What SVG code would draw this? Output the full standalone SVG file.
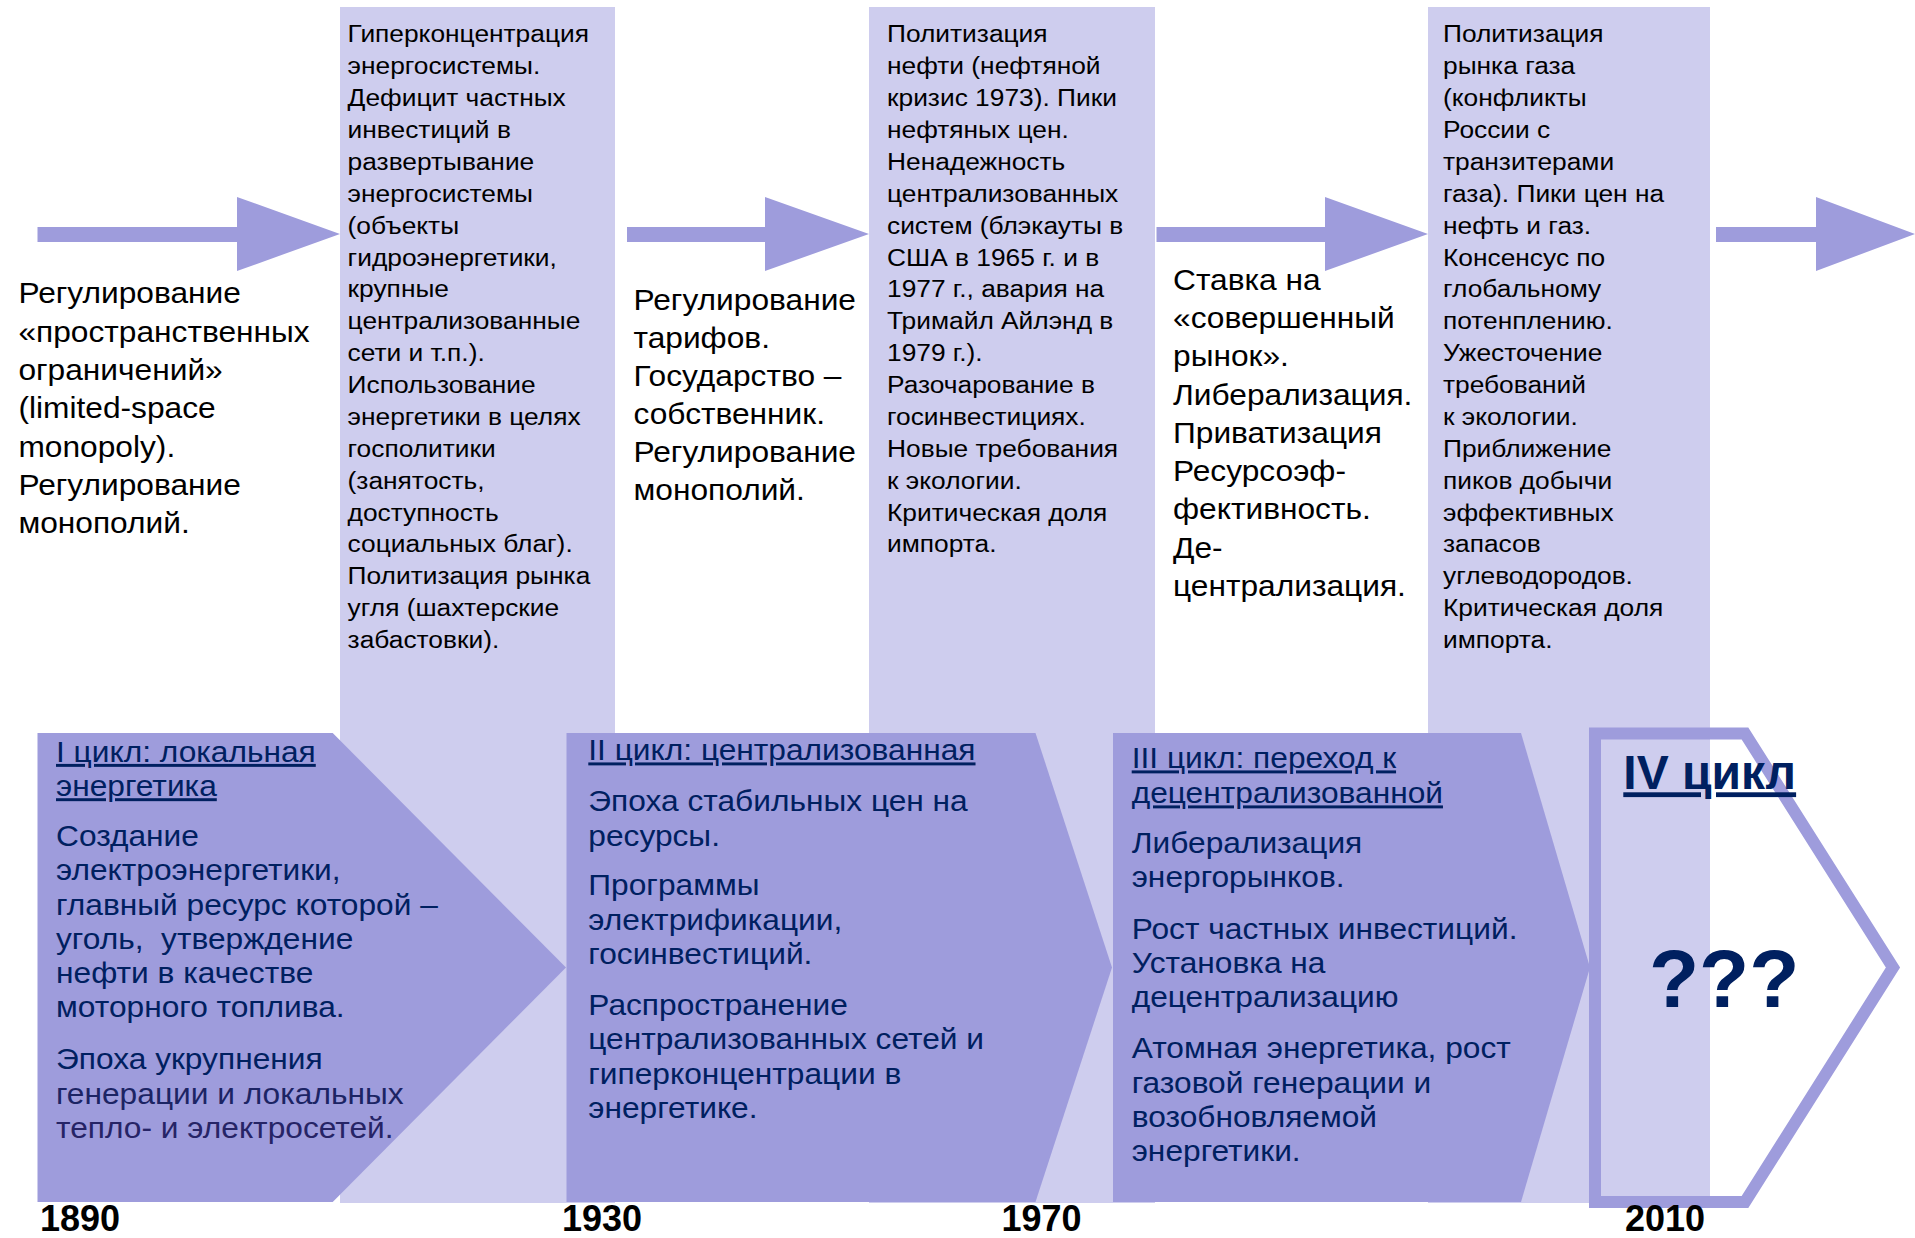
<svg xmlns="http://www.w3.org/2000/svg" width="1915" height="1238" viewBox="0 0 1915 1238">
<style>
text{font-family:"Liberation Sans",Arial,sans-serif}
.ft{font-size:29.5px;fill:#000}
.ct{font-size:24.5px;fill:#000}
.bt{font-size:29.5px;fill:#002060}
.u{text-decoration:underline}
.yr{font-size:36px;font-weight:bold;fill:#000}
.big{font-weight:bold;fill:#002060}
.light{fill:#cecdee}
.dark{fill:#9e9cdc}
.arrow{fill:#9e9cdc}
</style>
<rect width="1915" height="1238" fill="#fff"/>

<g id="column1">
<rect class="light" x="340" y="7" width="275" height="1196"/>
<g transform="translate(347.6,0) scale(1.075,1)">
<text class="ct">
<tspan x="0" y="42.4">Гиперконцентрация</tspan>
<tspan x="0" y="74.3">энергосистемы.</tspan>
<tspan x="0" y="106.2">Дефицит частных</tspan>
<tspan x="0" y="138">инвестиций в</tspan>
<tspan x="0" y="169.9">развертывание</tspan>
<tspan x="0" y="201.8">энергосистемы</tspan>
<tspan x="0" y="233.7">(объекты</tspan>
<tspan x="0" y="265.6">гидроэнергетики,</tspan>
<tspan x="0" y="297.4">крупные</tspan>
<tspan x="0" y="329.3">централизованные</tspan>
<tspan x="0" y="361.2">сети и т.п.).</tspan>
<tspan x="0" y="393.1">Использование</tspan>
<tspan x="0" y="425">энергетики в целях</tspan>
<tspan x="0" y="456.8">госполитики</tspan>
<tspan x="0" y="488.7">(занятость,</tspan>
<tspan x="0" y="520.6">доступность</tspan>
<tspan x="0" y="552.5">социальных благ).</tspan>
<tspan x="0" y="584.4">Политизация рынка</tspan>
<tspan x="0" y="616.2">угля (шахтерские</tspan>
<tspan x="0" y="648.1">забастовки).</tspan>
</text>
</g>
</g>

<g id="column2">
<rect class="light" x="869" y="7" width="286" height="1196"/>
<g transform="translate(887,0) scale(1.075,1)">
<text class="ct">
<tspan x="0" y="42.4">Политизация</tspan>
<tspan x="0" y="74.3">нефти (нефтяной</tspan>
<tspan x="0" y="106.2">кризис 1973). Пики</tspan>
<tspan x="0" y="138">нефтяных цен.</tspan>
<tspan x="0" y="169.9">Ненадежность</tspan>
<tspan x="0" y="201.8">централизованных</tspan>
<tspan x="0" y="233.7">систем (блэкауты в</tspan>
<tspan x="0" y="265.6">США в 1965 г. и в</tspan>
<tspan x="0" y="297.4">1977 г., авария на</tspan>
<tspan x="0" y="329.3">Тримайл Айлэнд в</tspan>
<tspan x="0" y="361.2">1979 г.).</tspan>
<tspan x="0" y="393.1">Разочарование в</tspan>
<tspan x="0" y="425">госинвестициях.</tspan>
<tspan x="0" y="456.8">Новые требования</tspan>
<tspan x="0" y="488.7">к экологии.</tspan>
<tspan x="0" y="520.6">Критическая доля</tspan>
<tspan x="0" y="552.5">импорта.</tspan>
</text>
</g>
</g>

<g id="column3">
<rect class="light" x="1428" y="7" width="282" height="1196"/>
<g transform="translate(1443,0) scale(1.075,1)">
<text class="ct">
<tspan x="0" y="42.4">Политизация</tspan>
<tspan x="0" y="74.3">рынка газа</tspan>
<tspan x="0" y="106.2">(конфликты</tspan>
<tspan x="0" y="138">России с</tspan>
<tspan x="0" y="169.9">транзитерами</tspan>
<tspan x="0" y="201.8">газа). Пики цен на</tspan>
<tspan x="0" y="233.7">нефть и газ.</tspan>
<tspan x="0" y="265.6">Консенсус по</tspan>
<tspan x="0" y="297.4">глобальному</tspan>
<tspan x="0" y="329.3">потенплению.</tspan>
<tspan x="0" y="361.2">Ужесточение</tspan>
<tspan x="0" y="393.1">требований</tspan>
<tspan x="0" y="425">к экологии.</tspan>
<tspan x="0" y="456.8">Приближение</tspan>
<tspan x="0" y="488.7">пиков добычи</tspan>
<tspan x="0" y="520.6">эффективных</tspan>
<tspan x="0" y="552.5">запасов</tspan>
<tspan x="0" y="584.4">углеводородов.</tspan>
<tspan x="0" y="616.2">Критическая доля</tspan>
<tspan x="0" y="648.1">импорта.</tspan>
</text>
</g>
</g>

<g id="cycle1">
<polygon class="dark" points="37.5,733 332.7,733 566,967.5 332.7,1202 37.5,1202"/>
<g transform="translate(56,0) scale(1.075,1)">
<text class="bt">
<tspan class="u" x="0" y="762">I цикл: локальная</tspan>
<tspan class="u" x="0" y="796.3">энергетика</tspan>
<tspan x="0" y="846">Создание</tspan>
<tspan x="0" y="880.3">электроэнергетики,</tspan>
<tspan x="0" y="914.6">главный ресурс которой –</tspan>
<tspan x="0" y="948.9">уголь,&#160; утверждение</tspan>
<tspan x="0" y="983.2">нефти в качестве</tspan>
<tspan x="0" y="1017.5">моторного топлива.</tspan>
<tspan x="0" y="1069.5">Эпоха укрупнения</tspan>
<tspan x="0" y="1103.8" fill="#1c2464">генерации и локальных</tspan>
<tspan x="0" y="1138.1" fill="#262466">тепло- и электросетей.</tspan>
</text>
</g>
</g>

<g id="cycle2">
<polygon class="dark" points="566.5,733 1035.5,733 1112,967.5 1035.5,1202 566.5,1202"/>
<g transform="translate(588.3,0) scale(1.075,1)">
<text class="bt">
<tspan class="u" x="0" y="760.5">II цикл: централизованная</tspan>
<tspan x="0" y="811.5">Эпоха стабильных цен на</tspan>
<tspan x="0" y="846">ресурсы.</tspan>
<tspan x="0" y="895.5">Программы</tspan>
<tspan x="0" y="930">электрификации,</tspan>
<tspan x="0" y="964.5">госинвестиций.</tspan>
<tspan x="0" y="1015">Распространение</tspan>
<tspan x="0" y="1049.5">централизованных сетей и</tspan>
<tspan x="0" y="1084">гиперконцентрации в</tspan>
<tspan x="0" y="1118.5">энергетике.</tspan>
</text>
</g>
</g>

<g id="cycle3">
<polygon class="dark" points="1113,733 1521,733 1590,967.5 1521,1202 1113,1202"/>
<g transform="translate(1131.7,0) scale(1.075,1)">
<text class="bt">
<tspan class="u" x="0" y="768.5">III цикл: переход к</tspan>
<tspan class="u" x="0" y="803.5">децентрализованной</tspan>
<tspan x="0" y="853">Либерализация</tspan>
<tspan x="0" y="887">энергорынков.</tspan>
<tspan x="0" y="939.5">Рост частных инвестиций.</tspan>
<tspan x="0" y="973.5">Установка на</tspan>
<tspan x="0" y="1007.5">децентрализацию</tspan>
<tspan x="0" y="1058.5">Атомная энергетика, рост</tspan>
<tspan x="0" y="1092.7">газовой генерации и</tspan>
<tspan x="0" y="1127">возобновляемой</tspan>
<tspan x="0" y="1161.5">энергетики.</tspan>
</text>
</g>
</g>

<g id="cycle4">
<polygon points="1595,733.5 1745,733.5 1893,967.5 1745,1202 1595,1202" fill="none" stroke="#9e9cdc" stroke-width="12"/>
<text class="big u" x="1623.3" y="789.3" font-size="48">IV цикл</text>
<text class="big" x="1649" y="1007" font-size="82">???</text>
</g>

<g id="text-left">
<g transform="translate(18.4,0) scale(1.075,1)">
<text class="ft">
<tspan x="0" y="303.5">Регулирование</tspan>
<tspan x="0" y="341.8">«пространственных</tspan>
<tspan x="0" y="380.1">ограничений»</tspan>
<tspan x="0" y="418.4">(limited-space</tspan>
<tspan x="0" y="456.7">monopoly).</tspan>
<tspan x="0" y="495">Регулирование</tspan>
<tspan x="0" y="533.3">монополий.</tspan>
</text>
</g>
</g>

<g id="text-middle">
<g transform="translate(633.5,0) scale(1.075,1)">
<text class="ft">
<tspan x="0" y="310.2">Регулирование</tspan>
<tspan x="0" y="348.2">тарифов.</tspan>
<tspan x="0" y="386.2">Государство –</tspan>
<tspan x="0" y="424.2">собственник.</tspan>
<tspan x="0" y="462.2">Регулирование</tspan>
<tspan x="0" y="500.2">монополий.</tspan>
</text>
</g>
</g>

<g id="text-right">
<g transform="translate(1173,0) scale(1.075,1)">
<text class="ft">
<tspan x="0" y="290">Ставка на</tspan>
<tspan x="0" y="328.3">«совершенный</tspan>
<tspan x="0" y="366.5">рынок».</tspan>
<tspan x="0" y="404.8">Либерализация.</tspan>
<tspan x="0" y="443">Приватизация</tspan>
<tspan x="0" y="481.3">Ресурсоэф-</tspan>
<tspan x="0" y="519.5">фективность.</tspan>
<tspan x="0" y="557.8">Де-</tspan>
<tspan x="0" y="596">централизация.</tspan>
</text>
</g>
</g>

<g id="connectors">
<polygon class="arrow" points="37.5,227 237,227 237,197 340,234 237,271 237,242 37.5,242"/>
<polygon class="arrow" points="627,227 765,227 765,197 869,234 765,271 765,242 627,242"/>
<polygon class="arrow" points="1156.5,227 1325,227 1325,197 1428,234 1325,271 1325,242 1156.5,242"/>
<polygon class="arrow" points="1716,227 1816,227 1816,197 1915,234 1816,271 1816,242 1716,242"/>
</g>

<g id="years">
<text class="yr" x="40" y="1231">1890</text>
<text class="yr" x="562" y="1231">1930</text>
<text class="yr" x="1001.5" y="1231">1970</text>
<text class="yr" x="1625" y="1231">2010</text>
</g>
</svg>
